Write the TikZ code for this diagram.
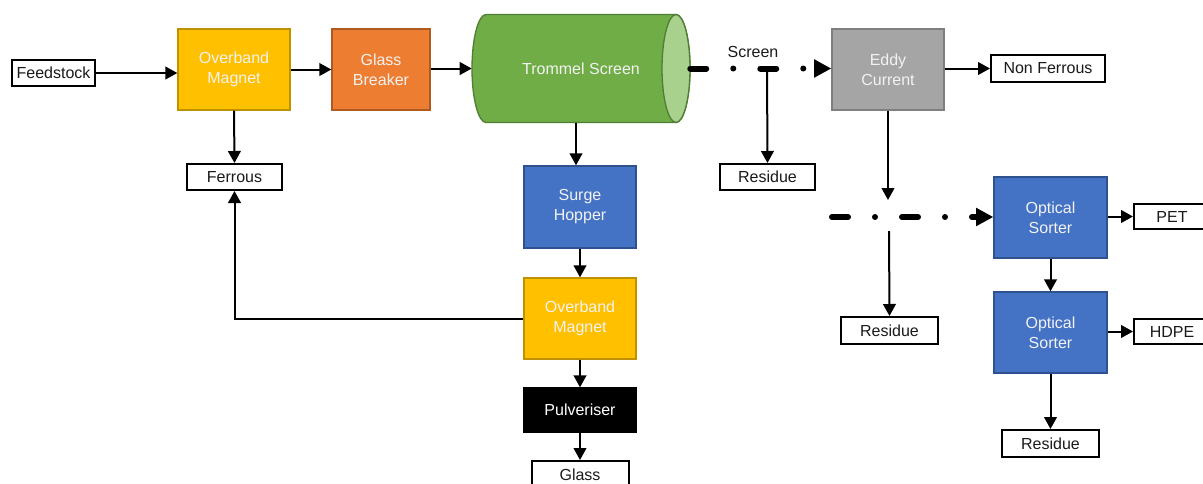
\documentclass[tikz,border=0pt]{standalone}
\usepackage{fontspec}
\setmainfont{Liberation Sans}
\usetikzlibrary{arrows.meta}

\definecolor{magnetfill}{HTML}{FFC000}
\definecolor{magnetline}{HTML}{BF9000}
\definecolor{breakfill}{HTML}{ED7D31}
\definecolor{breakline}{HTML}{AE5A21}
\definecolor{drumfill}{HTML}{70AD47}
\definecolor{drumline}{HTML}{507E32}
\definecolor{drumend}{HTML}{A9D18E}
\definecolor{sortfill}{HTML}{4472C4}
\definecolor{sortline}{HTML}{2F528F}
\definecolor{eddyfill}{HTML}{A5A5A5}
\definecolor{eddyline}{HTML}{7F7F7F}
\definecolor{boxtext}{HTML}{F2F2F2}
\definecolor{labeltext}{HTML}{1A1A1A}

\tikzset{
  lbl/.style={font=\fontsize{12}{15}\selectfont},
  proc/.style={lbl, draw, line width=1pt, text=boxtext, align=center, inner sep=0pt,
               minimum width=112*0.75pt, minimum height=81*0.75pt},
  magnet/.style={proc, fill=magnetfill, draw=magnetline},
  breaker/.style={proc, fill=breakfill, draw=breakline, minimum width=98*0.75pt},
  sorter/.style={proc, fill=sortfill, draw=sortline},
  eddy/.style={proc, fill=eddyfill, draw=eddyline},
  outbox/.style={lbl, text=labeltext, draw=black, fill=white, line width=1.5pt, inner sep=0pt,
                 minimum width=95*0.75pt, minimum height=26*0.75pt},
  arr/.style={line width=1.5pt, -{Triangle[length=9pt,width=9.5pt]}},
  flow/.style={line width=4.5pt, line cap=round,
               dash pattern=on 12pt off 20.25pt on 0pt off 20.25pt,
               -{Triangle[length=13pt,width=13pt]}},
}

\begin{document}
\begin{tikzpicture}[x=0.75pt,y=-0.75pt]
  \useasboundingbox (0,0) rectangle (1203,483);
  \fill[white] (0,0) rectangle (1203,483);
  \clip (0,0) rectangle (1203,483);

  % first line: magnet, breaker, trommel drum
  \node[outbox, minimum width=83*0.75pt] (feed) at (53.5,73) {Feedstock};
  \node[magnet] (om1) at (234,69.5) {Overband\\Magnet};
  \node[breaker] (gb) at (381,69.5) {Glass\\Breaker};

  % trommel drum body and its open end
  \filldraw[fill=drumfill, draw=drumline, line width=1pt]
    (486,14.5) -- (676,14.5)
    arc[start angle=-90, end angle=90, x radius=14, y radius=54]
    -- (486,122.5)
    arc[start angle=90, end angle=270, x radius=14, y radius=54] -- cycle;
  \filldraw[fill=drumend, draw=drumline, line width=1pt]
    (676,68.5) ellipse[x radius=14, y radius=54];
  \node[lbl, text=boxtext, inner sep=0pt, minimum width=218*0.75pt,
        minimum height=108*0.75pt] (trommel) at (581,68.5) {Trommel Screen};

  \node[outbox] (ferrous) at (234.5,177) {Ferrous};

  % glass line
  \node[sorter, minimum height=82*0.75pt] (hopper) at (580,207) {Surge\\Hopper};
  \node[magnet] (om2) at (580,318.5) {Overband\\Magnet};
  \node[proc, fill=black, draw=black, text=white, minimum height=44*0.75pt] (pulv) at (580,410) {Pulveriser};
  \node[outbox, minimum width=97*0.75pt, minimum height=28*0.75pt] (glass) at (580,475) {Glass};

  % screen oversize line
  \node[lbl, text=labeltext] (scrlbl) at (753,52) {Screen};
  \node[outbox] (res1) at (767.5,177) {Residue};
  \node[eddy] (ec) at (888,69.5) {Eddy\\Current};
  \node[outbox, minimum width=114*0.75pt, minimum height=27*0.75pt] (nonfe) at (1048,68.5) {Non Ferrous};

  % plastics sorting
  \node[sorter, minimum width=113*0.75pt] (os1) at (1050.5,217.5) {Optical\\Sorter};
  \node[sorter, minimum width=113*0.75pt] (os2) at (1050.5,332.5) {Optical\\Sorter};
  \node[outbox, minimum width=76*0.75pt, minimum height=25*0.75pt] (pet) at (1172,216.5) {PET};
  \node[outbox, minimum width=76*0.75pt, minimum height=25*0.75pt] (hdpe) at (1172,331.5) {HDPE};
  \node[outbox, minimum width=97*0.75pt, minimum height=27*0.75pt] (res2) at (889.5,330.5) {Residue};
  \node[outbox, minimum width=97*0.75pt, minimum height=27*0.75pt] (res3) at (1050.5,443.5) {Residue};

  % helper points
  \coordinate (tx) at (576,0);
  \coordinate (r1) at (767,68.5);
  \coordinate (ecend) at (888,200);
  \coordinate (split) at (832,217);
  \coordinate (r2) at (889,231);

  % connectors
  \draw[arr] (feed.east) -- (om1.west |- feed.east);
  \draw[arr] (om1.east |- gb.west) -- (gb.west);
  \draw[arr] (gb.east |- trommel.west) -- (trommel.west);
  \draw[arr] (om1.south) -- (ferrous.north);
  \draw[arr] (om2.west) -| (ferrous.south);
  \draw[arr] (trommel.south -| tx) -- (tx |- hopper.north);
  \draw[arr] (hopper.south) -- (om2.north);
  \draw[arr] (om2.south) -- (pulv.north);
  \draw[arr] (pulv.south) -- (glass.north);

  \draw[arr] (r1) -- (res1.north);
  \draw[flow] (trommel.east) -- (ec.west |- trommel.east);
  \draw[arr] (ec.east |- nonfe.west) -- (nonfe.west);
  \draw[arr] (ec.south) -- (ecend);
  \draw[flow] (split) -- (os1.west |- split);
  \draw[arr] (r2) -- (res2.north);
  \draw[arr] (os1.east |- pet.west) -- (pet.west);
  \draw[arr] (os1.south) -- (os2.north);
  \draw[arr] (os2.east |- hdpe.west) -- (hdpe.west);
  \draw[arr] (os2.south) -- (res3.north);
\end{tikzpicture}
\end{document}
